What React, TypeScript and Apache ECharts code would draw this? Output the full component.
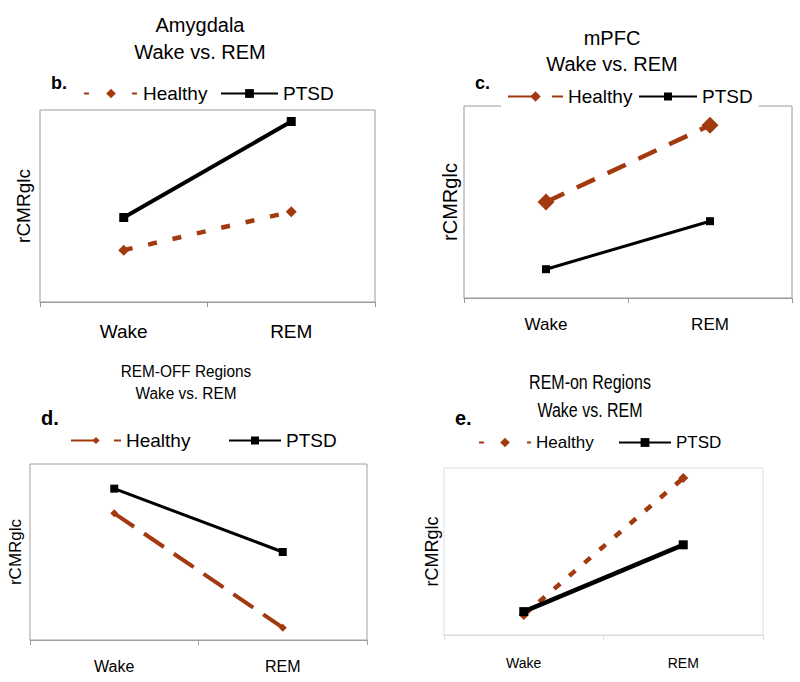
import React, { useEffect, useRef } from 'react';
import * as echarts from 'echarts';

// ---------- data ----------
const categories = ['Wake', 'REM'];
const groupNames = ['Healthy', 'PTSD'];
const yAxisName = 'rCMRglc';

const amygdalaHealthy = [2.7, 4.7];
const amygdalaPTSD = [4.4, 9.4];
const mpfcHealthy = [5.0, 9.0];
const mpfcPTSD = [1.5, 4.0];
const remOffHealthy = [7.2, 0.7];
const remOffPTSD = [8.6, 5.0];
const remOnHealthy = [1.2, 9.4];
const remOnPTSD = [1.4, 5.4];

const panelTitles = [
  ['Amygdala', 'Wake vs. REM'],
  ['mPFC', 'Wake vs. REM'],
  ['REM-OFF Regions', 'Wake vs. REM'],
  ['REM-on Regions', 'Wake vs. REM'],
];
const panelLetters = ['b.', 'c.', 'd.', 'e.'];
const panelValues = [
  [amygdalaHealthy, amygdalaPTSD],
  [mpfcHealthy, mpfcPTSD],
  [remOffHealthy, remOffPTSD],
  [remOnHealthy, remOnPTSD],
];

// ---------- styles / layout ----------
const BROWN = '#A33A0F';
const FONT = "'Liberation Sans', Arial, sans-serif";

const layouts = [
  {
    grid: { left: 40, top: 110, width: 335, height: 192 }, border: '#9a9a9a',
    titleSize: 20, titleScale: 1, titleX: 200, titleY: [25, 52], letter: { x: 51, y: 83, size: 18 },
    labelSize: 19, labelMargin: 20, nameSize: 19, nameGap: 7,
    legendY: 95, legendFont: 19, legendBg: 'transparent',
    lh: { x: 83, w: 54, h: 12, dash: [5, 19] }, lp: { x: 220, w: 57, h: 11 },
    hDash: [9, 16], hWidth: 4.5, hSym: 11, pWidth: 4, pSym: 9,
  },
  {
    grid: { left: 464, top: 106, width: 328, height: 192 }, border: '#9a9a9a',
    titleSize: 20, titleScale: 1, titleX: 612, titleY: [38, 64], letter: { x: 475, y: 83, size: 18 },
    labelSize: 17, labelMargin: 18, nameSize: 20, nameGap: 4,
    legendY: 98, legendFont: 19, legendBg: '#ffffff',
    lh: { x: 507, w: 55, h: 13, dash: [30, 14] }, lp: { x: 638, w: 58, h: 10 },
    hDash: [20, 14], hWidth: 4.5, hSym: 17, pWidth: 3, pSym: 8,
  },
  {
    grid: { left: 30, top: 464, width: 337, height: 176 }, border: '#a0a0a0',
    titleSize: 16, titleScale: 0.96, titleX: 186, titleY: [371, 393], letter: { x: 41, y: 418, size: 20 },
    labelSize: 16, labelMargin: 18, nameSize: 17, nameGap: 6,
    legendY: 442, legendFont: 19, legendBg: 'transparent',
    lh: { x: 70, w: 50, h: 9, dash: [27, 16] }, lp: { x: 228, w: 52, h: 10 },
    hDash: [24, 12], hWidth: 4, hSym: 8, pWidth: 3, pSym: 8,
  },
  {
    grid: { left: 444, top: 468, width: 319, height: 167 }, border: '#dddddd',
    titleSize: 20, titleScale: 0.8, titleX: 590, titleY: [382, 410], letter: { x: 455, y: 418, size: 20 },
    labelSize: 14, labelMargin: 21, nameSize: 18, nameGap: 3,
    legendY: 445, legendFont: 17, legendBg: 'transparent',
    lh: { x: 478, w: 52, h: 12, dash: [5, 19] }, lp: { x: 618, w: 52, h: 11 },
    hDash: [8, 12], hWidth: 4.5, hSym: 10, pWidth: 4.5, pSym: 9,
  },
];

function buildOption() {
  const grids: any[] = [];
  const xAxes: any[] = [];
  const yAxes: any[] = [];
  const series: any[] = [];
  const legends: any[] = [];
  const graphics: any[] = [];

  layouts.forEach((L, i) => {
    grids.push({ ...L.grid, show: true, borderColor: L.border, borderWidth: 1, backgroundColor: 'transparent' });
    xAxes.push({
      type: 'category', gridIndex: i, data: categories,
      axisLine: { lineStyle: { color: L.border, width: 1 } },
      axisTick: { show: true, length: 5, lineStyle: { color: L.border } },
      axisLabel: { margin: L.labelMargin, fontSize: L.labelSize, fontFamily: FONT, color: '#000' },
      splitLine: { show: false },
    });
    yAxes.push({
      type: 'value', gridIndex: i, min: 0, max: 10,
      axisLine: { show: false }, axisTick: { show: false }, axisLabel: { show: false }, splitLine: { show: false },
      name: yAxisName, nameLocation: 'middle', nameGap: L.nameGap,
      nameTextStyle: { fontSize: L.nameSize, fontFamily: FONT, color: '#000' },
    });
    const [hVals, pVals] = panelValues[i];
    const hName = groupNames[0] + '_' + i;
    const pName = groupNames[1] + '_' + i;
    series.push({
      type: 'line', name: hName, xAxisIndex: i, yAxisIndex: i, data: hVals,
      symbol: 'diamond', symbolSize: L.hSym,
      lineStyle: { color: BROWN, width: L.hWidth, type: L.hDash },
      itemStyle: { color: BROWN }, z: 2,
    });
    series.push({
      type: 'line', name: pName, xAxisIndex: i, yAxisIndex: i, data: pVals,
      symbol: 'rect', symbolSize: L.pSym,
      lineStyle: { color: '#000', width: L.pWidth, type: 'solid' },
      itemStyle: { color: '#000' }, z: 3,
    });
    const hasBg = L.legendBg !== 'transparent';
    const padY = hasBg ? 5 : 0;
    const padX = hasBg ? 6 : 0;
    legends.push({
      data: [hName], left: L.lh.x - padX, top: L.legendY - 11 - padY, padding: [padY, padX],
      itemWidth: L.lh.w, itemHeight: L.lh.h, itemGap: 0, selectedMode: false,
      backgroundColor: L.legendBg,
      formatter: () => groupNames[0],
      lineStyle: { type: L.lh.dash },
      textStyle: { fontSize: L.legendFont, fontFamily: FONT, color: '#000' },
    });
    legends.push({
      data: [pName], left: L.lp.x - padX, top: L.legendY - 11 - padY, padding: [padY, padX],
      itemWidth: L.lp.w, itemHeight: L.lp.h, itemGap: 0, selectedMode: false,
      backgroundColor: L.legendBg,
      formatter: () => groupNames[1],
      textStyle: { fontSize: L.legendFont, fontFamily: FONT, color: '#000' },
    });
    panelTitles[i].forEach((t, k) => {
      graphics.push({
        type: 'text', x: L.titleX, y: L.titleY[k], scaleX: L.titleScale, z: 10,
        style: { text: t, textAlign: 'center', textVerticalAlign: 'middle', fill: '#000', font: `${L.titleSize}px ${FONT}` },
      });
    });
    graphics.push({
      type: 'text', x: L.letter.x, y: L.letter.y, z: 10,
      style: { text: panelLetters[i], textAlign: 'left', textVerticalAlign: 'middle', fill: '#000', font: `bold ${L.letter.size}px ${FONT}` },
    });
  });

  return {
    animation: false,
    backgroundColor: '#ffffff',
    grid: grids,
    xAxis: xAxes,
    yAxis: yAxes,
    legend: legends,
    series,
    graphic: graphics,
  };
}

export default function App() {
  const ref = useRef<HTMLDivElement>(null);
  useEffect(() => {
    document.body.style.margin = '0';
    if (!ref.current) return;
    const chart = echarts.init(ref.current, undefined, { renderer: 'svg' });
    chart.setOption(buildOption());
    return () => chart.dispose();
  }, []);
  return <div ref={ref} style={{ width: 800, height: 682 }} />;
}
